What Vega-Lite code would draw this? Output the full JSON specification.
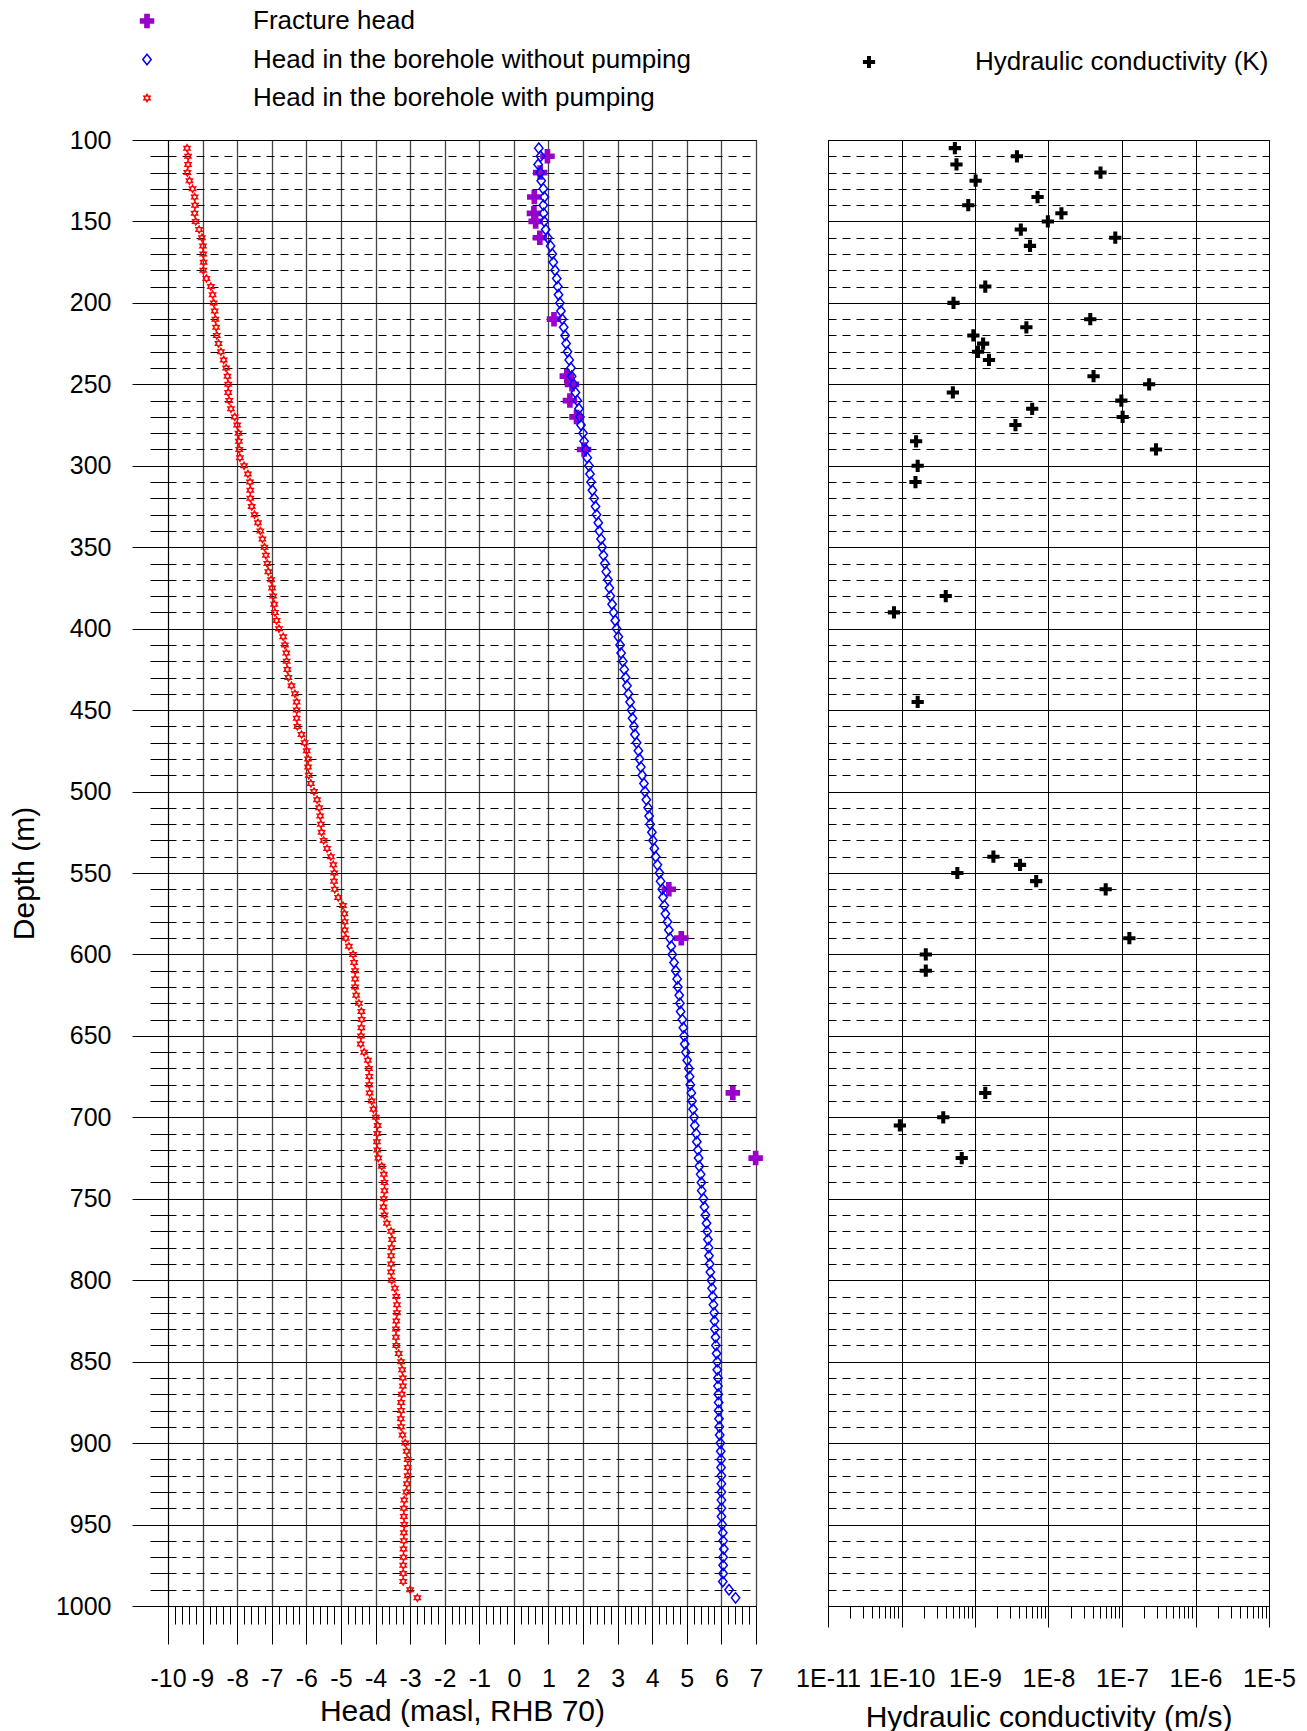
{
  "$schema": "https://vega.github.io/schema/vega-lite/v6.json",
  "background": "white",
  "padding": {"left": 8, "top": 7, "right": 0, "bottom": 0},
  "config": {
    "font": "Liberation Sans",
    "view": {"stroke": "black", "strokeWidth": 1},
    "axis": {"labelFontSize": 25, "labelColor": "black", "titleFontSize": 30, "titleFontWeight": "normal", "titleColor": "black", "labelFont": "Liberation Sans", "titleFont": "Liberation Sans", "domainColor": "black", "tickColor": "black", "labelOverlap": false, "labelFlush": false},
    "legend": {"labelFontSize": 26, "labelLimit": 1000, "padding": 0, "symbolStrokeWidth": 1.5, "rowPadding": 12.5, "labelOffset": 93, "labelColor": "black", "labelFont": "Liberation Sans"}
  },
  "datasets": {
    "heads": [
      {"series":"F","depth":110,"head":0.97},{"series":"F","depth":120,"head":0.76},{"series":"F","depth":135,"head":0.59},{"series":"F","depth":145,"head":0.58},{"series":"F","depth":150,"head":0.63},{"series":"F","depth":160,"head":0.75},{"series":"F","depth":210,"head":1.16},{"series":"F","depth":245,"head":1.53},{"series":"F","depth":250,"head":1.68},{"series":"F","depth":260,"head":1.62},{"series":"F","depth":270,"head":1.81},{"series":"F","depth":290,"head":2.03},{"series":"F","depth":560,"head":4.48},{"series":"F","depth":590,"head":4.84},{"series":"F","depth":685,"head":6.33},{"series":"F","depth":725,"head":6.99},
      {"series":"N","depth":105,"head":0.72},{"series":"N","depth":110,"head":0.77},{"series":"N","depth":115,"head":0.70},{"series":"N","depth":120,"head":0.76},{"series":"N","depth":125,"head":0.79},{"series":"N","depth":130,"head":0.85},{"series":"N","depth":135,"head":0.88},{"series":"N","depth":140,"head":0.85},{"series":"N","depth":145,"head":0.86},{"series":"N","depth":150,"head":0.88},
      {"series":"N","depth":155,"head":0.92},{"series":"N","depth":160,"head":0.98},{"series":"N","depth":165,"head":1.06},{"series":"N","depth":170,"head":1.11},{"series":"N","depth":175,"head":1.14},{"series":"N","depth":180,"head":1.19},{"series":"N","depth":185,"head":1.24},{"series":"N","depth":190,"head":1.27},{"series":"N","depth":195,"head":1.29},{"series":"N","depth":200,"head":1.33},
      {"series":"N","depth":205,"head":1.36},{"series":"N","depth":210,"head":1.40},{"series":"N","depth":215,"head":1.44},{"series":"N","depth":220,"head":1.48},{"series":"N","depth":225,"head":1.51},{"series":"N","depth":230,"head":1.55},{"series":"N","depth":235,"head":1.60},{"series":"N","depth":240,"head":1.65},{"series":"N","depth":245,"head":1.67},{"series":"N","depth":250,"head":1.73},
      {"series":"N","depth":255,"head":1.78},{"series":"N","depth":260,"head":1.83},{"series":"N","depth":265,"head":1.88},{"series":"N","depth":270,"head":1.91},{"series":"N","depth":275,"head":1.94},{"series":"N","depth":280,"head":2.00},{"series":"N","depth":285,"head":2.03},{"series":"N","depth":290,"head":2.08},{"series":"N","depth":295,"head":2.12},{"series":"N","depth":300,"head":2.17},
      {"series":"N","depth":305,"head":2.20},{"series":"N","depth":310,"head":2.23},{"series":"N","depth":315,"head":2.27},{"series":"N","depth":320,"head":2.32},{"series":"N","depth":325,"head":2.36},{"series":"N","depth":330,"head":2.39},{"series":"N","depth":335,"head":2.44},{"series":"N","depth":340,"head":2.47},{"series":"N","depth":345,"head":2.52},{"series":"N","depth":350,"head":2.55},
      {"series":"N","depth":355,"head":2.59},{"series":"N","depth":360,"head":2.63},{"series":"N","depth":365,"head":2.67},{"series":"N","depth":370,"head":2.72},{"series":"N","depth":375,"head":2.76},{"series":"N","depth":380,"head":2.79},{"series":"N","depth":385,"head":2.84},{"series":"N","depth":390,"head":2.88},{"series":"N","depth":395,"head":2.93},{"series":"N","depth":400,"head":2.97},
      {"series":"N","depth":405,"head":3.02},{"series":"N","depth":410,"head":3.07},{"series":"N","depth":415,"head":3.10},{"series":"N","depth":420,"head":3.15},{"series":"N","depth":425,"head":3.19},{"series":"N","depth":430,"head":3.23},{"series":"N","depth":435,"head":3.27},{"series":"N","depth":440,"head":3.31},{"series":"N","depth":445,"head":3.36},{"series":"N","depth":450,"head":3.40},
      {"series":"N","depth":455,"head":3.43},{"series":"N","depth":460,"head":3.47},{"series":"N","depth":465,"head":3.50},{"series":"N","depth":470,"head":3.55},{"series":"N","depth":475,"head":3.60},{"series":"N","depth":480,"head":3.63},{"series":"N","depth":485,"head":3.67},{"series":"N","depth":490,"head":3.71},{"series":"N","depth":495,"head":3.76},{"series":"N","depth":500,"head":3.79},
      {"series":"N","depth":505,"head":3.83},{"series":"N","depth":510,"head":3.88},{"series":"N","depth":515,"head":3.91},{"series":"N","depth":520,"head":3.94},{"series":"N","depth":525,"head":3.99},{"series":"N","depth":530,"head":4.02},{"series":"N","depth":535,"head":4.06},{"series":"N","depth":540,"head":4.10},{"series":"N","depth":545,"head":4.15},{"series":"N","depth":550,"head":4.21},
      {"series":"N","depth":555,"head":4.24},{"series":"N","depth":560,"head":4.29},{"series":"N","depth":565,"head":4.31},{"series":"N","depth":570,"head":4.35},{"series":"N","depth":575,"head":4.38},{"series":"N","depth":580,"head":4.44},{"series":"N","depth":585,"head":4.48},{"series":"N","depth":590,"head":4.51},{"series":"N","depth":595,"head":4.55},{"series":"N","depth":600,"head":4.58},
      {"series":"N","depth":605,"head":4.63},{"series":"N","depth":610,"head":4.68},{"series":"N","depth":615,"head":4.72},{"series":"N","depth":620,"head":4.74},{"series":"N","depth":625,"head":4.78},{"series":"N","depth":630,"head":4.80},{"series":"N","depth":635,"head":4.82},{"series":"N","depth":640,"head":4.87},{"series":"N","depth":645,"head":4.90},{"series":"N","depth":650,"head":4.92},
      {"series":"N","depth":655,"head":4.94},{"series":"N","depth":660,"head":4.97},{"series":"N","depth":665,"head":5.01},{"series":"N","depth":670,"head":5.06},{"series":"N","depth":675,"head":5.08},{"series":"N","depth":680,"head":5.10},{"series":"N","depth":685,"head":5.13},{"series":"N","depth":690,"head":5.15},{"series":"N","depth":695,"head":5.18},{"series":"N","depth":700,"head":5.21},
      {"series":"N","depth":705,"head":5.23},{"series":"N","depth":710,"head":5.27},{"series":"N","depth":715,"head":5.29},{"series":"N","depth":720,"head":5.32},{"series":"N","depth":725,"head":5.34},{"series":"N","depth":730,"head":5.36},{"series":"N","depth":735,"head":5.40},{"series":"N","depth":740,"head":5.42},{"series":"N","depth":745,"head":5.43},{"series":"N","depth":750,"head":5.48},
      {"series":"N","depth":755,"head":5.51},{"series":"N","depth":760,"head":5.54},{"series":"N","depth":765,"head":5.57},{"series":"N","depth":770,"head":5.59},{"series":"N","depth":775,"head":5.61},{"series":"N","depth":780,"head":5.63},{"series":"N","depth":785,"head":5.64},{"series":"N","depth":790,"head":5.66},{"series":"N","depth":795,"head":5.68},{"series":"N","depth":800,"head":5.71},
      {"series":"N","depth":805,"head":5.73},{"series":"N","depth":810,"head":5.75},{"series":"N","depth":815,"head":5.77},{"series":"N","depth":820,"head":5.79},{"series":"N","depth":825,"head":5.80},{"series":"N","depth":830,"head":5.81},{"series":"N","depth":835,"head":5.83},{"series":"N","depth":840,"head":5.84},{"series":"N","depth":845,"head":5.86},{"series":"N","depth":850,"head":5.88},
      {"series":"N","depth":855,"head":5.88},{"series":"N","depth":860,"head":5.90},{"series":"N","depth":865,"head":5.90},{"series":"N","depth":870,"head":5.91},{"series":"N","depth":875,"head":5.92},{"series":"N","depth":880,"head":5.92},{"series":"N","depth":885,"head":5.93},{"series":"N","depth":890,"head":5.94},{"series":"N","depth":895,"head":5.95},{"series":"N","depth":900,"head":5.97},
      {"series":"N","depth":905,"head":5.98},{"series":"N","depth":910,"head":5.99},{"series":"N","depth":915,"head":5.99},{"series":"N","depth":920,"head":6.00},{"series":"N","depth":925,"head":6.00},{"series":"N","depth":930,"head":6.00},{"series":"N","depth":935,"head":6.00},{"series":"N","depth":940,"head":6.00},{"series":"N","depth":945,"head":6.00},{"series":"N","depth":950,"head":6.02},
      {"series":"N","depth":955,"head":6.04},{"series":"N","depth":960,"head":6.05},{"series":"N","depth":965,"head":6.07},{"series":"N","depth":970,"head":6.05},{"series":"N","depth":975,"head":6.05},{"series":"N","depth":980,"head":6.05},{"series":"N","depth":985,"head":6.04},{"series":"N","depth":990,"head":6.22},{"series":"N","depth":995,"head":6.41},
      {"series":"P","depth":105,"head":-9.45},{"series":"P","depth":110,"head":-9.42},{"series":"P","depth":115,"head":-9.42},{"series":"P","depth":120,"head":-9.44},{"series":"P","depth":125,"head":-9.38},{"series":"P","depth":130,"head":-9.29},{"series":"P","depth":135,"head":-9.23},{"series":"P","depth":140,"head":-9.22},{"series":"P","depth":145,"head":-9.23},{"series":"P","depth":150,"head":-9.20},
      {"series":"P","depth":155,"head":-9.10},{"series":"P","depth":160,"head":-9.02},{"series":"P","depth":165,"head":-8.99},{"series":"P","depth":170,"head":-8.98},{"series":"P","depth":175,"head":-8.97},{"series":"P","depth":180,"head":-8.98},{"series":"P","depth":185,"head":-8.89},{"series":"P","depth":190,"head":-8.76},{"series":"P","depth":195,"head":-8.71},{"series":"P","depth":200,"head":-8.68},
      {"series":"P","depth":205,"head":-8.65},{"series":"P","depth":210,"head":-8.63},{"series":"P","depth":215,"head":-8.61},{"series":"P","depth":220,"head":-8.59},{"series":"P","depth":225,"head":-8.54},{"series":"P","depth":230,"head":-8.47},{"series":"P","depth":235,"head":-8.39},{"series":"P","depth":240,"head":-8.32},{"series":"P","depth":245,"head":-8.28},{"series":"P","depth":250,"head":-8.26},
      {"series":"P","depth":255,"head":-8.26},{"series":"P","depth":260,"head":-8.23},{"series":"P","depth":265,"head":-8.18},{"series":"P","depth":270,"head":-8.07},{"series":"P","depth":275,"head":-8.00},{"series":"P","depth":280,"head":-7.96},{"series":"P","depth":285,"head":-7.95},{"series":"P","depth":290,"head":-7.94},{"series":"P","depth":295,"head":-7.92},{"series":"P","depth":300,"head":-7.80},
      {"series":"P","depth":305,"head":-7.69},{"series":"P","depth":310,"head":-7.63},{"series":"P","depth":315,"head":-7.62},{"series":"P","depth":320,"head":-7.62},{"series":"P","depth":325,"head":-7.58},{"series":"P","depth":330,"head":-7.50},{"series":"P","depth":335,"head":-7.40},{"series":"P","depth":340,"head":-7.33},{"series":"P","depth":345,"head":-7.27},{"series":"P","depth":350,"head":-7.21},
      {"series":"P","depth":355,"head":-7.17},{"series":"P","depth":360,"head":-7.13},{"series":"P","depth":365,"head":-7.10},{"series":"P","depth":370,"head":-7.02},{"series":"P","depth":375,"head":-6.99},{"series":"P","depth":380,"head":-6.96},{"series":"P","depth":385,"head":-6.93},{"series":"P","depth":390,"head":-6.91},{"series":"P","depth":395,"head":-6.86},{"series":"P","depth":400,"head":-6.79},
      {"series":"P","depth":405,"head":-6.67},{"series":"P","depth":410,"head":-6.62},{"series":"P","depth":415,"head":-6.58},{"series":"P","depth":420,"head":-6.57},{"series":"P","depth":425,"head":-6.55},{"series":"P","depth":430,"head":-6.52},{"series":"P","depth":435,"head":-6.43},{"series":"P","depth":440,"head":-6.33},{"series":"P","depth":445,"head":-6.28},{"series":"P","depth":450,"head":-6.28},
      {"series":"P","depth":455,"head":-6.28},{"series":"P","depth":460,"head":-6.26},{"series":"P","depth":465,"head":-6.14},{"series":"P","depth":470,"head":-6.05},{"series":"P","depth":475,"head":-5.99},{"series":"P","depth":480,"head":-5.95},{"series":"P","depth":485,"head":-5.95},{"series":"P","depth":490,"head":-5.93},{"series":"P","depth":495,"head":-5.87},{"series":"P","depth":500,"head":-5.78},
      {"series":"P","depth":505,"head":-5.69},{"series":"P","depth":510,"head":-5.63},{"series":"P","depth":515,"head":-5.60},{"series":"P","depth":520,"head":-5.58},{"series":"P","depth":525,"head":-5.56},{"series":"P","depth":530,"head":-5.50},{"series":"P","depth":535,"head":-5.40},{"series":"P","depth":540,"head":-5.29},{"series":"P","depth":545,"head":-5.22},{"series":"P","depth":550,"head":-5.19},
      {"series":"P","depth":555,"head":-5.20},{"series":"P","depth":560,"head":-5.18},{"series":"P","depth":565,"head":-5.08},{"series":"P","depth":570,"head":-4.94},{"series":"P","depth":575,"head":-4.90},{"series":"P","depth":580,"head":-4.89},{"series":"P","depth":585,"head":-4.89},{"series":"P","depth":590,"head":-4.86},{"series":"P","depth":595,"head":-4.77},{"series":"P","depth":600,"head":-4.65},
      {"series":"P","depth":605,"head":-4.62},{"series":"P","depth":610,"head":-4.59},{"series":"P","depth":615,"head":-4.59},{"series":"P","depth":620,"head":-4.59},{"series":"P","depth":625,"head":-4.56},{"series":"P","depth":630,"head":-4.48},{"series":"P","depth":635,"head":-4.41},{"series":"P","depth":640,"head":-4.40},{"series":"P","depth":645,"head":-4.41},{"series":"P","depth":650,"head":-4.42},
      {"series":"P","depth":655,"head":-4.43},{"series":"P","depth":660,"head":-4.33},{"series":"P","depth":665,"head":-4.22},{"series":"P","depth":670,"head":-4.19},{"series":"P","depth":675,"head":-4.18},{"series":"P","depth":680,"head":-4.18},{"series":"P","depth":685,"head":-4.17},{"series":"P","depth":690,"head":-4.11},{"series":"P","depth":695,"head":-4.06},{"series":"P","depth":700,"head":-3.99},
      {"series":"P","depth":705,"head":-3.94},{"series":"P","depth":710,"head":-3.95},{"series":"P","depth":715,"head":-3.96},{"series":"P","depth":720,"head":-3.95},{"series":"P","depth":725,"head":-3.92},{"series":"P","depth":730,"head":-3.82},{"series":"P","depth":735,"head":-3.76},{"series":"P","depth":740,"head":-3.74},{"series":"P","depth":745,"head":-3.74},{"series":"P","depth":750,"head":-3.76},
      {"series":"P","depth":755,"head":-3.77},{"series":"P","depth":760,"head":-3.74},{"series":"P","depth":765,"head":-3.67},{"series":"P","depth":770,"head":-3.55},{"series":"P","depth":775,"head":-3.52},{"series":"P","depth":780,"head":-3.54},{"series":"P","depth":785,"head":-3.55},{"series":"P","depth":790,"head":-3.55},{"series":"P","depth":795,"head":-3.55},{"series":"P","depth":800,"head":-3.53},
      {"series":"P","depth":805,"head":-3.44},{"series":"P","depth":810,"head":-3.40},{"series":"P","depth":815,"head":-3.38},{"series":"P","depth":820,"head":-3.38},{"series":"P","depth":825,"head":-3.40},{"series":"P","depth":830,"head":-3.41},{"series":"P","depth":835,"head":-3.41},{"series":"P","depth":840,"head":-3.40},{"series":"P","depth":845,"head":-3.33},{"series":"P","depth":850,"head":-3.26},
      {"series":"P","depth":855,"head":-3.23},{"series":"P","depth":860,"head":-3.21},{"series":"P","depth":865,"head":-3.21},{"series":"P","depth":870,"head":-3.24},{"series":"P","depth":875,"head":-3.26},{"series":"P","depth":880,"head":-3.26},{"series":"P","depth":885,"head":-3.27},{"series":"P","depth":890,"head":-3.26},{"series":"P","depth":895,"head":-3.22},{"series":"P","depth":900,"head":-3.14},
      {"series":"P","depth":905,"head":-3.10},{"series":"P","depth":910,"head":-3.07},{"series":"P","depth":915,"head":-3.07},{"series":"P","depth":920,"head":-3.07},{"series":"P","depth":925,"head":-3.09},{"series":"P","depth":930,"head":-3.11},{"series":"P","depth":935,"head":-3.17},{"series":"P","depth":940,"head":-3.18},{"series":"P","depth":945,"head":-3.18},{"series":"P","depth":950,"head":-3.17},
      {"series":"P","depth":955,"head":-3.18},{"series":"P","depth":960,"head":-3.18},{"series":"P","depth":965,"head":-3.19},{"series":"P","depth":970,"head":-3.19},{"series":"P","depth":975,"head":-3.20},{"series":"P","depth":980,"head":-3.20},{"series":"P","depth":985,"head":-3.20},{"series":"P","depth":990,"head":-3.00},{"series":"P","depth":995,"head":-2.79}
    ],
    "k": [
      {"depth":105,"K":5.32e-10},{"depth":110,"K":3.72e-9},{"depth":115,"K":5.6e-10},{"depth":120,"K":5.1e-8},{"depth":125,"K":1.02e-9},{"depth":135,"K":7.1e-9},{"depth":140,"K":8.1e-10},{"depth":145,"K":1.5e-8},{"depth":150,"K":9.8e-9},{"depth":155,"K":4.2e-9},{"depth":160,"K":8.1e-8},{"depth":165,"K":5.6e-9},
      {"depth":190,"K":1.38e-9},{"depth":200,"K":5.1e-10},{"depth":210,"K":3.7e-8},{"depth":215,"K":5.0e-9},{"depth":220,"K":9.5e-10},{"depth":225,"K":1.29e-9},{"depth":230,"K":1.1e-9},{"depth":235,"K":1.55e-9},{"depth":245,"K":4.1e-8},{"depth":250,"K":2.34e-7},
      {"depth":255,"K":5.0e-10},{"depth":260,"K":9.8e-8},{"depth":265,"K":6.0e-9},{"depth":270,"K":1.02e-7},{"depth":275,"K":3.55e-9},{"depth":285,"K":1.58e-10},{"depth":290,"K":2.9e-7},{"depth":300,"K":1.66e-10},{"depth":310,"K":1.55e-10},
      {"depth":380,"K":4.0e-10},{"depth":390,"K":7.9e-11},{"depth":445,"K":1.66e-10},{"depth":540,"K":1.78e-9},{"depth":545,"K":4.1e-9},{"depth":550,"K":5.75e-10},{"depth":555,"K":6.8e-9},{"depth":560,"K":6.0e-8},{"depth":590,"K":1.26e-7},
      {"depth":600,"K":2.14e-10},{"depth":610,"K":2.14e-10},{"depth":685,"K":1.38e-9},{"depth":700,"K":3.7e-10},{"depth":705,"K":9.5e-11},{"depth":725,"K":6.6e-10}
    ]
  },
  "hconcat": [
    {
      "width": 588,
      "height": 1466,
      "data": {"name": "heads"},
      "mark": {"type": "point", "opacity": 1, "strokeWidth": 1.5},
      "encoding": {
        "x": {
          "field": "head", "type": "quantitative",
          "scale": {"domain": [-10, 7], "nice": false, "zero": false},
          "axis": {
            "title": "Head (masl, RHB 70)",
            "values": [-10,-9.8,-9.6,-9.4,-9.2,-9,-8.8,-8.6,-8.4,-8.2,-8,-7.8,-7.6,-7.4,-7.2,-7,-6.8,-6.6,-6.4,-6.2,-6,-5.8,-5.6,-5.4,-5.2,-5,-4.8,-4.6,-4.4,-4.2,-4,-3.8,-3.6,-3.4,-3.2,-3,-2.8,-2.6,-2.4,-2.2,-2,-1.8,-1.6,-1.4,-1.2,-1,-0.8,-0.6,-0.4,-0.2,0,0.2,0.4,0.6,0.8,1,1.2,1.4,1.6,1.8,2,2.2,2.4,2.6,2.8,3,3.2,3.4,3.6,3.8,4,4.2,4.4,4.6,4.8,5,5.2,5.4,5.6,5.8,6,6.2,6.4,6.6,6.8,7],
            "grid": true,
            "gridColor": "#444",
            "gridWidth": 1.3,
            "gridOpacity": {"condition": {"test": "abs(datum.value - round(datum.value)) < 0.01", "value": 1}, "value": 0},
            "tickSize": {"condition": {"test": "abs(datum.value - round(datum.value)) < 0.01", "value": 38}, "value": 18},
            "labelExpr": "abs(datum.value - round(datum.value)) < 0.01 ? '' + round(datum.value) : ''",
            "labelPadding": 22,
            "titlePadding": 5
          }
        },
        "y": {
          "field": "depth", "type": "quantitative",
          "scale": {"domain": [100, 1000], "reverse": true, "nice": false, "zero": false},
          "axis": {
            "title": "Depth (m)",
            "values": [100,110,120,130,140,150,160,170,180,190,200,210,220,230,240,250,260,270,280,290,300,310,320,330,340,350,360,370,380,390,400,410,420,430,440,450,460,470,480,490,500,510,520,530,540,550,560,570,580,590,600,610,620,630,640,650,660,670,680,690,700,710,720,730,740,750,760,770,780,790,800,810,820,830,840,850,860,870,880,890,900,910,920,930,940,950,960,970,980,990,1000],
            "grid": true,
            "gridColor": "black",
            "gridWidth": 1,
            "gridDash": {"condition": {"test": "datum.value % 50 === 0", "value": []}, "value": [8, 6]},
            "tickSize": {"condition": {"test": "datum.value % 50 === 0", "value": 36}, "value": 18},
            "labelExpr": "datum.value % 50 === 0 ? '' + datum.value : ''",
            "labelPadding": 21,
            "titlePadding": 16
          }
        },
        "fill": {
          "field": "series", "type": "nominal",
          "scale": {"domain": ["F", "N", "P"], "range": ["#9900cc", "transparent", "transparent"]},
          "legend": {
            "title": null, "orient": "none", "legendX": -34, "legendY": -132,
            "labelExpr": "datum.label == 'F' ? 'Fracture head' : datum.label == 'N' ? 'Head in the borehole without pumping' : 'Head in the borehole with pumping'"
          }
        },
        "stroke": {
          "field": "series", "type": "nominal",
          "scale": {"domain": ["F", "N", "P"], "range": ["#9900cc", "#0000ff", "#ff0000"]}
        },
        "shape": {
          "field": "series", "type": "nominal",
          "scale": {"domain": ["F", "N", "P"], "range": [
            "M-1,-0.32L-0.32,-0.32L-0.32,-1L0.32,-1L0.32,-0.32L1,-0.32L1,0.32L0.32,0.32L0.32,1L-0.32,1L-0.32,0.32L-1,0.32Z",
            "M0,-1L0.8,0L0,1L-0.8,0Z",
            "M0,-1L0.289,-0.5L0.866,-0.5L0.577,0L0.866,0.5L0.289,0.5L0,1L-0.289,0.5L-0.866,0.5L-0.577,0L-0.866,-0.5L-0.289,-0.5Z"
          ]}
        },
        "size": {
          "field": "series", "type": "nominal",
          "scale": {"domain": ["F", "N", "P"], "range": [169, 49, 56]}
        }
      }
    },
    {
      "width": 441,
      "height": 1466,
      "data": {"name": "k"},
      "mark": {"type": "point", "filled": true, "opacity": 1, "size": 150, "strokeWidth": 0,
        "shape": "M-1,-0.33L-0.33,-0.33L-0.33,-1L0.33,-1L0.33,-0.33L1,-0.33L1,0.33L0.33,0.33L0.33,1L-0.33,1L-0.33,0.33L-1,0.33Z"},
      "encoding": {
        "x": {
          "field": "K", "type": "quantitative",
          "scale": {"type": "log", "domain": [1e-11, 1e-5], "nice": false},
          "axis": {
            "title": "Hydraulic conductivity (m/s)",
            "values": [1e-11,2e-11,3e-11,4e-11,5e-11,6e-11,7e-11,8e-11,9e-11,1e-10,2e-10,3e-10,4e-10,5e-10,6e-10,7e-10,8e-10,9e-10,1e-9,2e-9,3e-9,4e-9,5e-9,6e-9,7e-9,8e-9,9e-9,1e-8,2e-8,3e-8,4e-8,5e-8,6e-8,7e-8,8e-8,9e-8,1e-7,2e-7,3e-7,4e-7,5e-7,6e-7,7e-7,8e-7,9e-7,1e-6,2e-6,3e-6,4e-6,5e-6,6e-6,7e-6,8e-6,9e-6,1e-5],
            "grid": true,
            "gridColor": "black",
            "gridWidth": 1,
            "gridOpacity": {"condition": {"test": "abs(log(datum.value)/LN10 - round(log(datum.value)/LN10)) < 0.01", "value": 1}, "value": 0},
            "tickSize": {"condition": {"test": "abs(log(datum.value)/LN10 - round(log(datum.value)/LN10)) < 0.01", "value": 21}, "value": 12},
            "labelExpr": "abs(log(datum.value)/LN10 - round(log(datum.value)/LN10)) < 0.01 ? '1E' + round(log(datum.value)/LN10) : ''",
            "labelPadding": 39,
            "titlePadding": 11
          }
        },
        "y": {
          "field": "depth", "type": "quantitative",
          "scale": {"domain": [100, 1000], "reverse": true, "nice": false, "zero": false},
          "axis": {
            "title": null, "labels": false, "ticks": false, "domain": false,
            "values": [100,110,120,130,140,150,160,170,180,190,200,210,220,230,240,250,260,270,280,290,300,310,320,330,340,350,360,370,380,390,400,410,420,430,440,450,460,470,480,490,500,510,520,530,540,550,560,570,580,590,600,610,620,630,640,650,660,670,680,690,700,710,720,730,740,750,760,770,780,790,800,810,820,830,840,850,860,870,880,890,900,910,920,930,940,950,960,970,980,990,1000],
            "grid": true,
            "gridColor": "black",
            "gridWidth": 1,
            "gridDash": {"condition": {"test": "datum.value % 50 === 0", "value": []}, "value": [8, 6]}
          }
        },
        "color": {
          "datum": "Hydraulic conductivity (K)", "type": "nominal",
          "scale": {"range": ["black"]},
          "legend": {
            "title": null, "orient": "none", "legendX": 28, "legendY": -91,
            "symbolType": "M-1,-0.33L-0.33,-0.33L-0.33,-1L0.33,-1L0.33,-0.33L1,-0.33L1,0.33L0.33,0.33L0.33,1L-0.33,1L-0.33,0.33L-1,0.33Z",
            "symbolSize": 150, "symbolStrokeWidth": 0, "labelOffset": 93
          }
        }
      }
    }
  ],
  "spacing": 72,
  "bounds": "flush",
  "resolve": {
    "scale": {"fill": "independent", "stroke": "independent", "shape": "independent", "size": "independent", "color": "independent"},
    "legend": {"fill": "independent", "stroke": "independent", "shape": "independent", "size": "independent", "color": "independent"}
  }
}
